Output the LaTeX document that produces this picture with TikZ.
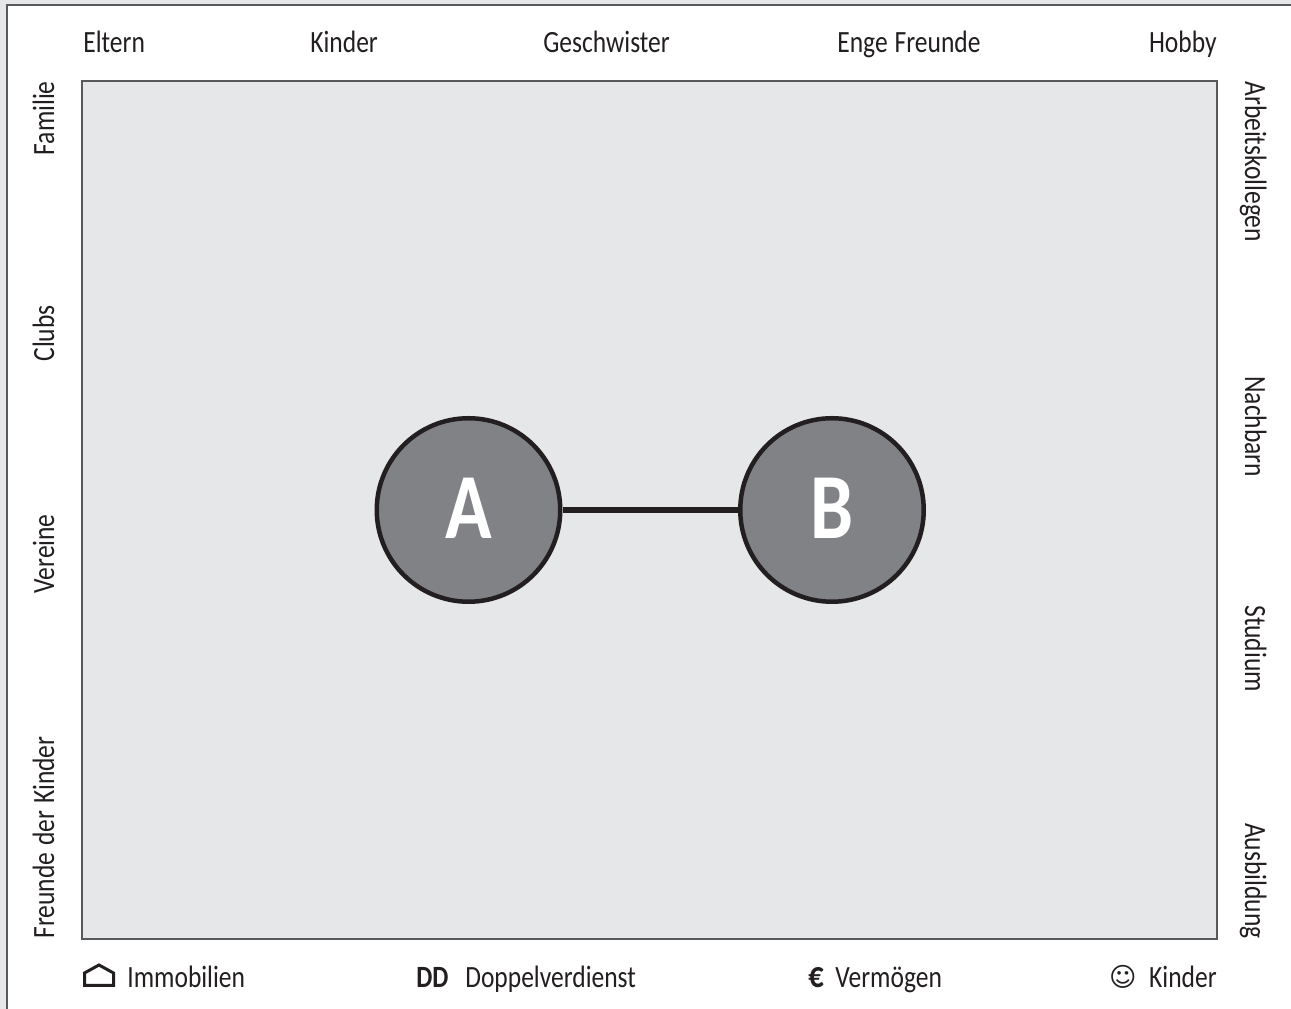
\documentclass[tikz,border=0pt]{standalone}
\usepackage{fontspec}
\setmainfont[FakeStretch=0.825,WordSpace=1.2]{Carlito}
\newfontfamily\symbolfont{DejaVu Sans}
\definecolor{pagegrey}{HTML}{E6E7E8}
\definecolor{framegrey}{HTML}{58595B}
\definecolor{circlegrey}{HTML}{808285}
\definecolor{inkblack}{HTML}{231F20}
\tikzset{
  label/.style={inner sep=0pt, text=inkblack, font=\fontsize{17.6}{20}\selectfont},
  person/.style={circle, draw=inkblack, fill=circlegrey, line width=0.09cm, minimum size=3.67cm,
    inner sep=0pt, text=white, font=\fontsize{53}{56}\selectfont\bfseries},
}
\begin{document}
\begin{tikzpicture}
  \useasboundingbox (0.000000,0.000000) rectangle (25.820000,20.180000);

  % Page edge
  \fill [pagegrey] (0.000000,0.000000) rectangle (25.820000,20.180000);
  \fill [white] (0.140000,0.000000) rectangle (25.820000,20.080000);
  \draw [framegrey, line width=0.03cm] (0.140000,0.000000) -- (0.140000,20.080000) -- (25.820000,20.080000);

  % Field
  \draw [framegrey, fill=pagegrey, line width=0.03cm] (1.640000,1.400000) rectangle (24.340000,18.560000);

  % Top labels
  \node (eltern) [label, anchor=base west] at (1.660000,19.120000) {Eltern};
  \node (kinderT) [label, anchor=base west] at (6.200000,19.120000) {Kinder};
  \node (geschwister) [label, anchor=base west] at (10.860000,19.120000) {Geschwister};
  \node (freunde) [label, anchor=base west] at (16.740000,19.120000) {Enge Freunde};
  \node (hobby) [label, anchor=base east] at (24.340000,19.120000) {Hobby};

  % Left labels
  \node (familie) [label, rotate=90, anchor=base east] at (1.080000,18.560000) {Familie};
  \node (clubs) [label, rotate=90, anchor=base east] at (1.080000,14.080000) {Clubs};
  \node (vereine) [label, rotate=90, anchor=base east] at (1.080000,9.900000) {Vereine};
  \node (freundeK) [label, rotate=90, anchor=base west] at (1.080000,1.400000) {Freunde der Kinder};

  % Right labels
  \node (kollegen) [label, rotate=-90, anchor=base west] at (24.900000,18.560000) {Arbeitskollegen};
  \node (nachbarn) [label, rotate=-90, anchor=base west] at (24.900000,12.660000) {Nachbarn};
  \node (studium) [label, rotate=-90, anchor=base west] at (24.900000,8.080000) {Studium};
  \node (ausbildung) [label, rotate=-90, anchor=base east] at (24.900000,1.400000) {Ausbildung};

  % Bottom legend
  \draw [inkblack, line width=0.06cm, line join=miter] (1.690000,0.470000) -- (1.690000,0.720000) -- (1.980000,0.880000) -- (2.270000,0.720000) -- (2.270000,0.470000) -- cycle;
  \node (immobilien) [label, anchor=base west] at (2.540000,0.420000) {Immobilien};
  \node (dd) [label, anchor=base west] at (8.320000,0.420000) {\bfseries DD};
  \node (doppel) [label, anchor=base west] at (9.300000,0.420000) {Doppelverdienst};
  \node (euro) [label, anchor=base west] at (16.160000,0.420000) {\fontsize{21}{20}\selectfont\bfseries €};
  \node (vermoegen) [label, anchor=base west] at (16.700000,0.420000) {Vermögen};
  \node (smiley) [label, anchor=base east] at (22.740000,0.440000) {\fontsize{15}{20}\selectfont\symbolfont ☺};
  \node (kinderB) [label, anchor=base east] at (24.340000,0.420000) {Kinder};

  % Partners
  \node (a) [person] at (9.370000,9.980000) {\raisebox{0.08cm}{A}};
  \node (b) [person] at (16.640000,9.980000) {\raisebox{0.08cm}{B}};
  \draw [inkblack, line width=0.13cm] (a) -- (b);
\end{tikzpicture}
\end{document}
